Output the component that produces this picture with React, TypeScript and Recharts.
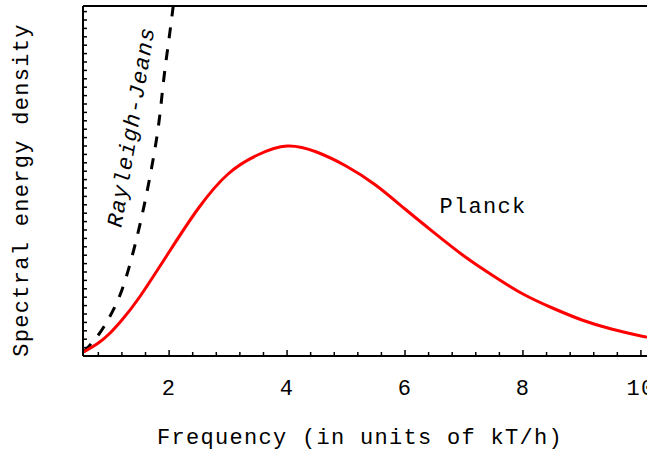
import React from "react";
import { LineChart, Line, XAxis, YAxis, ReferenceLine } from "recharts";

// Planck curve (arbitrary energy-density units)
const planckX = [0.55, 0.8, 1.0, 1.2, 1.5, 2, 2.5, 3, 3.5, 4, 4.5, 5, 5.5, 6, 6.5, 7, 7.5, 8, 8.5, 9, 9.5, 10, 10.12];
const planckY = [4, 13, 23, 36, 59, 104, 148, 182, 201, 210, 204, 190, 171, 147, 123, 100, 80, 62, 48, 36, 27, 20, 19];

// Rayleigh-Jeans curve, runs off the top of the frame just past 2
const rjX = [0.55, 0.8, 1.0, 1.2, 1.4, 1.6, 1.8, 1.9, 2.0, 2.07];
const rjY = [4, 21, 40, 66, 106, 157, 222, 272, 318, 350];

const xLabels = [2, 4, 6, 8, 10];
const xDomain = [0.54, 10.12];
const yDomain = [0, 350];

const planckData = planckX.map((x, i) => ({ x, v: planckY[i] }));
const rjData = rjX.map((x, i) => ({ x, v: rjY[i] }));

// minor frame ticks
const xTicks: number[] = [];
for (let t = 0.8; t <= 10.01; t += 0.4) xTicks.push(Math.round(t * 10) / 10);
const yTicks: number[] = [];
for (let t = 8.4; t < 350; t += 8.4) yTicks.push(Math.round(t * 10) / 10);

const font = {
  fontFamily: "'Courier New', 'Liberation Mono', monospace",
  fontSize: 22,
  letterSpacing: 1.3,
  fill: "#000",
};

function XTick(props: any) {
  const { x, y, payload } = props;
  const major = xLabels.includes(payload.value);
  return (
    <g>
      <line x1={x} x2={x} y1={y} y2={y - (major ? 6 : 4)} stroke="#000" strokeWidth={1.5} />
      {major && (
        <text x={x} y={y + 39} textAnchor="middle" style={font}>
          {payload.value}
        </text>
      )}
    </g>
  );
}

function YTick(props: any) {
  const { x, y } = props;
  return <line x1={x} x2={x + 4} y1={y} y2={y} stroke="#000" strokeWidth={1.5} />;
}

export default function App() {
  return (
    <div
      style={{
        position: "absolute",
        left: 0,
        top: 0,
        width: 647,
        height: 451,
        overflow: "hidden",
        background: "#fff",
      }}
    >
      <LineChart width={660} height={451} margin={{ top: 6, right: 12, bottom: 65, left: 63 }}>
        <XAxis
          dataKey="x"
          type="number"
          domain={xDomain}
          allowDataOverflow
          ticks={xTicks}
          interval={0}
          height={30}
          tickSize={0}
          tickMargin={0}
          tickLine={false}
          axisLine={{ stroke: "#000", strokeWidth: 2 }}
          tick={<XTick />}
        />
        <YAxis
          type="number"
          domain={yDomain}
          allowDataOverflow
          ticks={yTicks}
          interval={0}
          width={20}
          tickSize={0}
          tickMargin={0}
          tickLine={false}
          axisLine={{ stroke: "#000", strokeWidth: 2 }}
          tick={<YTick />}
        />
        <ReferenceLine y={350} stroke="#000" strokeWidth={2} />
        <Line
          data={rjData}
          dataKey="v"
          type="natural"
          stroke="#000"
          strokeWidth={3}
          strokeDasharray="11 11"
          dot={false}
          isAnimationActive={false}
        />
        <Line
          data={planckData}
          dataKey="v"
          type="natural"
          stroke="#ff0000"
          strokeWidth={3}
          dot={false}
          isAnimationActive={false}
        />
      </LineChart>
      <svg
        width={647}
        height={451}
        style={{ position: "absolute", left: 0, top: 0, pointerEvents: "none" }}
      >
        <text x={360} y={444} textAnchor="middle" style={font}>
          Frequency (in units of kT/h)
        </text>
        <text x={28} y={190} textAnchor="middle" transform="rotate(-90 28 190)" style={font}>
          Spectral energy density
        </text>
        <text x={483} y={213} textAnchor="middle" style={font}>
          Planck
        </text>
        <text
          x={138}
          y={128}
          textAnchor="middle"
          transform="rotate(-80.5 138 128)"
          style={{ ...font, fontStyle: "italic" }}
        >
          Rayleigh-Jeans
        </text>
      </svg>
    </div>
  );
}
